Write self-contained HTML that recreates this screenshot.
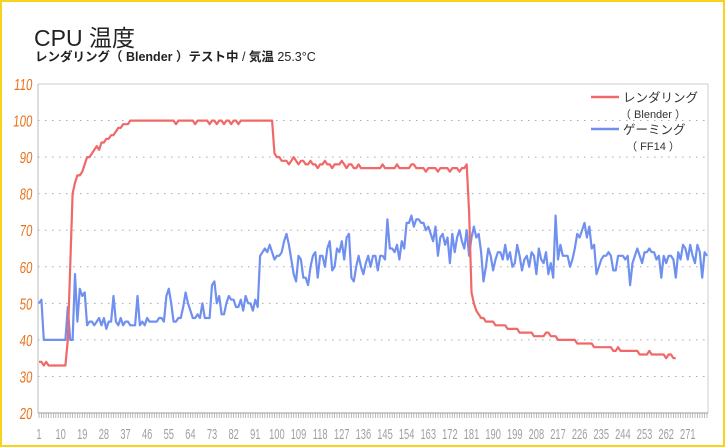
<!DOCTYPE html>
<html><head><meta charset="utf-8"><style>
body{margin:0;background:#fff;}
#wrap{position:relative;width:721px;height:443px;border:2px solid #f7d31e;overflow:hidden;font-family:"Liberation Sans","Noto Sans CJK JP",sans-serif;}
svg{position:absolute;left:-2px;top:-2px;}
</style></head><body>
<div id="wrap">
<svg id="c" width="725" height="447">
<text x="34" y="46" font-size="23" fill="#222">CPU 温度</text>
<text x="35" y="61" font-size="12.5" fill="#222"><tspan font-weight="bold">レンダリング（ Blender ）テスト中 </tspan> /  <tspan font-weight="bold">気温</tspan> 25.3°C</text>
</svg>
</div>
<script>
const yTicks=[20,30,40,50,60,70,80,90,100,110];
const xTickLabels=[1,10,19,28,37,46,55,64,73,82,91,100,109,118,127,136,145,154,163,172,181,190,199,208,217,226,235,244,253,262,271];
const renderSeries=[34,34,33,34,33,33,33,33,33,33,33,33,
40,60,80,83,85,85,86,88,90,90,91,92,93,92,94,94,95,95,96,96,97,98,98,99,99,99,
100,100,100,100,100,100,100,100,100,100,
100,100,100,100,100,100,100,100,100,99,
100,100,100,100,100,100,100,99,100,100,
100,100,100,99,100,100,99,100,100,99,
100,100,99,100,100,99,100,100,100,100,
100,100,100,100,100,100,100,100,100,100,
91,90,90,89,89,89,88,89,90,89,88,89,89,88,88,89,88,88,87,88,88,89,88,88,87,88,88,88,89,88,87,88,88,
87,87,88,87,87,87,87,87,87,87,87,87,88,87,87,87,87,87,88,87,87,87,87,87,88,88,87,87,87,87,86,87,87,87,87,86,87,87,87,87,86,87,87,87,86,87,87,88,
75,53,50,48,47,46,46,45,45,45,45,44,44,44,44,44,
43,43,43,43,43,42,42,42,42,42,42,41,41,41,41,41,42,42,41,41,41,40,40,40,40,40,40,40,40,39,39,39,39,39,39,39,38,38,38,38,38,38,38,38,37,37,38,37,37,37,37,37,37,37,37,36,36,36,36,37,36,36,36,36,36,36,35,36,36,35,35];
const gamingSeries=[50,51,40,40,40,40,40,40,40,40,40,40,49,40,40,58,45,54,52,53,44,45,45,44,45,46,44,46,43,45,45,52,45,44,46,44,45,45,44,44,44,52,44,45,44,46,45,45,45,45,46,46,45,52,54,50,45,45,46,46,49,53,50,48,46,46,47,46,50,46,46,46,55,56,50,52,47,47,50,52,51,51,49,49,51,48,52,50,50,48,51,49,63,64,65,64,66,64,62,63,63,64,67,69,66,62,58,56,63,62,57,57,55,60,63,64,57,63,63,60,65,67,59,60,65,64,67,62,68,69,57,56,60,63,60,58,61,63,60,63,63,59,63,63,62,73,65,65,64,66,62,67,65,72,72,74,71,73,73,72,72,70,71,69,67,71,63,68,69,66,68,61,69,64,68,70,67,65,70,63,68,71,68,69,64,56,60,65,63,59,62,64,64,62,66,62,64,60,61,66,63,59,62,63,60,64,63,58,65,62,61,64,58,61,57,74,62,66,63,63,63,60,62,65,69,68,70,72,68,71,65,66,58,60,62,63,63,64,63,59,59,63,63,63,62,63,55,61,63,65,63,61,64,64,65,64,64,62,63,57,63,61,63,63,62,57,64,62,66,65,62,66,63,61,66,64,57,64,63];
const N=279;
const L=38,R=708,T=84,B=413;
const sx=i=>L+1+(i)*(R-L-2)/(N-1);
const sy=v=>B-(v-20)*(B-T)/90;
const svg=document.getElementById('c');const NS='http://www.w3.org/2000/svg';
function mk(t,a,p){const e=document.createElementNS(NS,t);for(const k in a)e.setAttribute(k,a[k]);(p||svg).appendChild(e);return e;}
yTicks.forEach(v=>{
 if(v>20&&v<110){const g=mk('line',{x1:L,x2:R,y1:sy(v),y2:sy(v),stroke:'#aaa','stroke-dasharray':'1.5,5.5'});
 
 }
 const x=L-6,y=sy(v)+6;
 const t=mk('text',{x:0,y:0,'text-anchor':'end','font-size':'16',fill:'#e8731c',transform:'translate('+x+','+y+') scale(0.72,1) skewX(-8)'});
 t.textContent=v;
 
 
});
const topBorder=mk('line',{x1:L,x2:R,y1:T,y2:T,stroke:'#ccc'});


const la=mk('line',{x1:L,x2:L,y1:T,y2:B,stroke:'#bbb'});


const ra=mk('line',{x1:R,x2:R,y1:T,y2:B,stroke:'#ccc'});


const xa=mk('line',{x1:L,x2:R,y1:B,y2:B,stroke:'#999'});


let d='';for(let i=0;i<N;i++){const x=sx(i).toFixed(1);d+='M'+x+' '+B+'V'+(B+5);}
const tk=mk('path',{d:d,stroke:'#aaa','stroke-width':'0.8'});


xTickLabels.forEach(n=>{const x=sx(n-1),y=B+26;
 const t=mk('text',{x:0,y:0,'text-anchor':'middle','font-size':'15',fill:'#a0a0a0',transform:'translate('+x+','+y+') scale(0.62,1)'});
 t.textContent=n;
 
 });
function line(arr,col,name){const p=arr.map((v,i)=>(i?'L':'M')+sx(i).toFixed(1)+' '+sy(v).toFixed(1)).join('');
 const e=mk('path',{d:p,fill:'none',stroke:col,'stroke-width':'2.2','stroke-linejoin':'round'});
 
 }
line(gamingSeries,'#7090f0','gaming-ff14-line');
line(renderSeries,'#f06868','rendering-blender-line');
function leg(y,col,a,b,name){const g=mk('g',{});
 
 
 mk('line',{x1:591,x2:619,y1:y,y2:y,stroke:col,'stroke-width':'2.5'},g);
 const t1=mk('text',{x:623,y:y+5,'font-size':'12.5',fill:'#333'},g);t1.textContent=a;
 const t2=mk('text',{x:653,y:y+21,'font-size':'11','text-anchor':'middle',fill:'#333'},g);t2.textContent=b;}
leg(97,'#f06868','レンダリング','（ Blender ）','legend-rendering');
leg(129,'#7090f0','ゲーミング','（ FF14 ）','legend-gaming');
</script>
</body></html>
